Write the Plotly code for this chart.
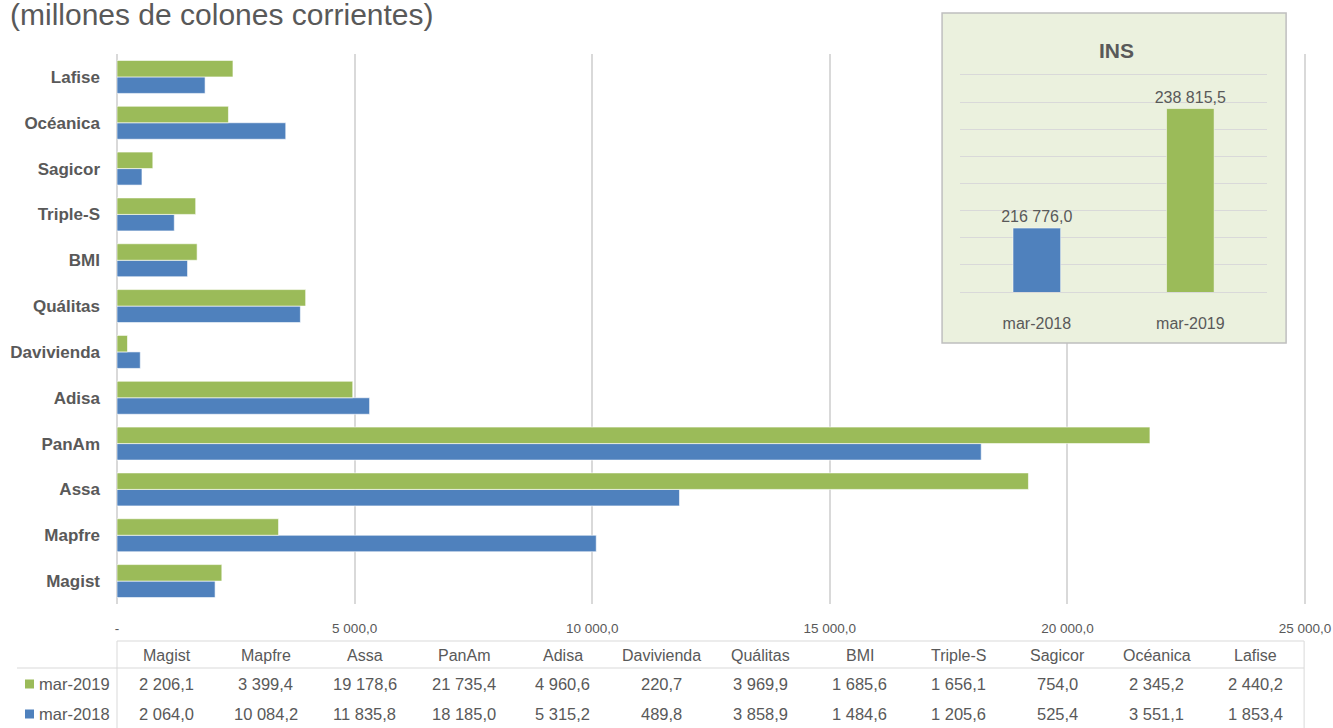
import plotly.graph_objects as go

# ---------------- data ----------------
categories = ["Magist", "Mapfre", "Assa", "PanAm", "Adisa", "Davivienda",
              "Quálitas", "BMI", "Triple-S", "Sagicor", "Océanica", "Lafise"]
mar2019 = [2206.1, 3399.4, 19178.6, 21735.4, 4960.6, 220.7,
           3969.9, 1685.6, 1656.1, 754.0, 2345.2, 2440.2]
mar2018 = [2064.0, 10084.2, 11835.8, 18185.0, 5315.2, 489.8,
           3858.9, 1484.6, 1205.6, 525.4, 3551.1, 1853.4]
series_names = ["mar-2019", "mar-2018"]
x_tickvals = [0, 5000, 10000, 15000, 20000, 25000]
x_ticktext = ["-", "5 000,0", "10 000,0", "15 000,0", "20 000,0", "25 000,0"]

ins_periods = ["mar-2018", "mar-2019"]
ins_values = [216776.0, 238815.5]
ins_title = "INS"
title_text = "(millones de colones corrientes)"

# ---------------- style ----------------
GREEN = "#9BBB59"
BLUE = "#4F81BD"
TXT = "#595959"
GRID = "#D9D9D9"
FONT = "Liberation Sans, Arial, sans-serif"

W, H = 1333, 728
XMAX = 25000
XRANGE_MAX = 25040                       # tiny headroom so the 25 000 gridline is kept
PX_PER_UNIT = 1188 / XMAX
PL, PB = 117, 604                        # main plot left / bottom (page pixels)
PT_MAIN = 54                             # main plot top
PT = 4                                   # top of the margin box (room for inset frame)
PR = PL + XRANGE_MAX * PX_PER_UNIT
PW = PR - PL
PH = PB - PT
ML, MT = PL, PT
MR = W - PR
MB = H - PB


def px_x(px):
    return (px - PL) / PW


def px_y(py):
    return (PB - py) / PH


def fmt(v):
    return f"{v:,.1f}".replace(",", " ").replace(".", ",")


fig = go.Figure()

# main horizontal bars (first trace drawn lowest in the group)
fig.add_trace(go.Bar(
    y=categories, x=mar2018, name=series_names[1], orientation="h",
    marker=dict(color=BLUE, line=dict(color="rgba(255,255,255,0.6)", width=1)),
    xaxis="x", yaxis="y", showlegend=False, hoverinfo="x+y"))
fig.add_trace(go.Bar(
    y=categories, x=mar2019, name=series_names[0], orientation="h",
    marker=dict(color=GREEN, line=dict(color="rgba(255,255,255,0.6)", width=1)),
    xaxis="x", yaxis="y", showlegend=False, hoverinfo="x+y"))

# empty trace for the inset-frame subplot (x2/y2), drawn between main and inset
fig.add_trace(go.Scatter(x=[], y=[], xaxis="x2", yaxis="y2", showlegend=False,
                         hoverinfo="skip"))

# inset INS bars (x3/y3)
fig.add_trace(go.Bar(
    x=ins_periods, y=ins_values,
    marker=dict(color=[BLUE, GREEN], line=dict(color="rgba(255,255,255,0.5)", width=1)),
    texttemplate="%{y:,.1f}", textposition="outside", cliponaxis=False,
    constraintext="none",
    textfont=dict(size=16, color=TXT, family=FONT),
    xaxis="x3", yaxis="y3", showlegend=False, width=0.31))

# frame region (page pixels), with a small clip margin
FX0, FX1, FY0, FY1 = 939, 1289, 10, 346
# inset plot area (page pixels)
IX0, IX1, IY0, IY1 = 960, 1267, 75, 292

hidden = dict(showgrid=False, zeroline=False, showline=False, ticks="",
              showticklabels=False, automargin=False, fixedrange=True)

fig.update_layout(
    width=W, height=H,
    margin=dict(l=ML, r=MR, t=MT, b=MB, pad=0, autoexpand=False),
    paper_bgcolor="white", plot_bgcolor="rgba(0,0,0,0)",
    separators=", ",
    barmode="group", bargap=0.28, bargroupgap=0,
    font=dict(family=FONT, color=TXT),
    xaxis=dict(range=[0, XRANGE_MAX], tickvals=x_tickvals, ticktext=x_ticktext,
               showgrid=True, gridcolor=GRID, gridwidth=1.5,
               zeroline=True, zerolinecolor=GRID, zerolinewidth=1.5,
               showline=False, ticks="", ticklabelstandoff=14, automargin=False,
               ticklabeloverflow="allow",
               tickfont=dict(size=13.5, color=TXT, family=FONT), fixedrange=True),
    yaxis=dict(domain=[0, px_y(PT_MAIN)],
               categoryorder="array", categoryarray=categories,
               showgrid=False, zeroline=False, showline=False, ticks="",
               ticklabelstandoff=16, automargin=False,
               tickfont=dict(size=17, color=TXT, family=FONT, weight="bold"),
               fixedrange=True),
    xaxis2=dict(domain=[px_x(FX0), px_x(FX1)], anchor="y2", range=[FX0, FX1], **hidden),
    yaxis2=dict(domain=[px_y(FY1), px_y(FY0)], anchor="x2", range=[FY1, FY0], **hidden),
    xaxis3=dict(domain=[px_x(IX0), px_x(IX1)], anchor="y3",
                showgrid=False, zeroline=False, ticks="",
                showline=True, mirror=True, linecolor=GRID, linewidth=1,
                ticklabelstandoff=17, automargin=False,
                tickfont=dict(size=16, color=TXT, family=FONT), fixedrange=True),
    yaxis3=dict(domain=[px_y(IY1), px_y(IY0)], anchor="x3",
                range=[205000, 245000], dtick=5000, tick0=205000,
                showgrid=True, gridcolor=GRID, gridwidth=1,
                zeroline=False, showline=False, showticklabels=False,
                ticks="", automargin=False, fixedrange=True),
)

shapes = []
# inset frame, drawn in the x2y2 subplot layer (above main grid, below inset)
shapes.append(dict(type="rect", xref="x2", yref="y2", layer="below",
                   x0=942, x1=1286, y0=13, y1=343,
                   fillcolor="#EBF1DE", line=dict(color="#BFBFBF", width=1.5)))

# data table lines
shapes.append(dict(type="line", xref="paper", yref="paper",
                   x0=px_x(117), x1=px_x(1304), y0=px_y(641), y1=px_y(641),
                   line=dict(color=GRID, width=1)))
shapes.append(dict(type="line", xref="paper", yref="paper",
                   x0=px_x(17), x1=px_x(1304), y0=px_y(668), y1=px_y(668),
                   line=dict(color=GRID, width=1)))
shapes.append(dict(type="line", xref="paper", yref="paper",
                   x0=px_x(117), x1=px_x(117), y0=px_y(641), y1=px_y(730),
                   line=dict(color=GRID, width=1)))
shapes.append(dict(type="line", xref="paper", yref="paper",
                   x0=px_x(1304), x1=px_x(1304), y0=px_y(641), y1=px_y(730),
                   line=dict(color=GRID, width=1)))

# legend keys in table
row_y = [684, 714]
row_colors = [GREEN, BLUE]
for ry, col in zip(row_y, row_colors):
    shapes.append(dict(type="rect", xref="paper", yref="paper",
                       x0=px_x(25), x1=px_x(34), y0=px_y(ry + 4.5), y1=px_y(ry - 4.5),
                       fillcolor=col, line=dict(width=0)))

fig.update_layout(shapes=shapes)

ann = []
# title (top edge near the page edge, as in the reference)
ann.append(dict(text=title_text, xref="paper", yref="paper",
                x=px_x(8), y=px_y(15), xanchor="left", yanchor="middle",
                showarrow=False, font=dict(size=30, color=TXT, family=FONT)))
# inset title
ann.append(dict(text=ins_title, xref="paper", yref="paper",
                x=px_x(1116), y=px_y(50), xanchor="center", yanchor="middle",
                showarrow=False, font=dict(size=21, color=TXT, family=FONT, weight="bold")))

# table: headers and values
col_w = XMAX / len(categories)
for i, cat in enumerate(categories):
    xc = (i + 0.5) * col_w
    ann.append(dict(text=cat, xref="x", yref="paper", x=xc, y=px_y(655),
                    xanchor="center", yanchor="middle", showarrow=False,
                    font=dict(size=16, color=TXT, family=FONT)))
    for ry, vals in zip(row_y, [mar2019, mar2018]):
        ann.append(dict(text=fmt(vals[i]), xref="x", yref="paper", x=xc, y=px_y(ry),
                        xanchor="center", yanchor="middle", showarrow=False,
                        font=dict(size=16.5, color=TXT, family=FONT)))
for ry, name in zip(row_y, series_names):
    ann.append(dict(text=name, xref="paper", yref="paper", x=px_x(37), y=px_y(ry),
                    xanchor="left", yanchor="middle", showarrow=False,
                    font=dict(size=16.5, color=TXT, family=FONT)))

fig.update_layout(annotations=ann)

fig.write_html("out.html",
               config={"displayModeBar": False},
               post_script="document.body.style.margin='0';"
                           "document.body.style.overflow='hidden';")
